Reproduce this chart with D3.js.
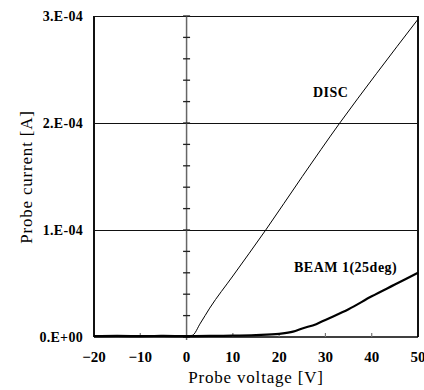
<!DOCTYPE html>
<html>
<head>
<meta charset="utf-8">
<script src="https://cdn.jsdelivr.net/npm/d3@7"></script>
<style>
  html, body { margin: 0; padding: 0; background: #fff; }
  svg { display: block; }
  text { font-family: "Liberation Serif", "DejaVu Serif", serif; fill: #000; }
</style>
</head>
<body>
<div id="chart"></div>
<script>
// ---- data ----
const xTicks = [-20, -10, 0, 10, 20, 30, 40, 50];
const yTicks = [0, 1e-4, 2e-4, 3e-4];
const yTickLabels = ["0.E+00", "1.E-04", "2.E-04", "3.E-04"];
const yMinorTicks = [0, 0.2e-4, 0.4e-4, 0.6e-4, 0.8e-4, 1.0e-4, 1.2e-4, 1.4e-4, 1.6e-4, 1.8e-4,
                     2.0e-4, 2.2e-4, 2.4e-4, 2.6e-4, 2.8e-4, 3.0e-4];

const discVoltage = [-20, -15, -10, -5, 0, 1.2, 3, 5, 10, 17.1, 25, 33.1, 41, 50];
const discCurrent = [0.012e-4, 0.010e-4, 0.012e-4, 0.011e-4, 0.012e-4, 0.015e-4, 0.13e-4, 0.27e-4,
                     0.57e-4, 1.0e-4, 1.5e-4, 2.0e-4, 2.46e-4, 2.97e-4];

const beamVoltage = [-20, -15, -10, -5, 0, 5, 10, 15, 20, 23, 25, 28, 30, 35, 40, 45, 50];
const beamCurrent = [0.008e-4, 0.010e-4, 0.008e-4, 0.010e-4, 0.008e-4, 0.010e-4, 0.012e-4, 0.018e-4,
                     0.03e-4, 0.05e-4, 0.08e-4, 0.12e-4, 0.16e-4, 0.26e-4, 0.38e-4, 0.49e-4, 0.60e-4];

const labels = [
  { text: "DISC", x: 27.3, y: 2.24e-4 },
  { text: "BEAM 1(25deg)", x: 23.2, y: 0.61e-4 }
];

// ---- layout ----
const W = 424, H = 390;
const mLeft = 94, mRight = 418, mTop = 16, mBottom = 337;

const svg = d3.select("#chart").append("svg").attr("width", W).attr("height", H);

const x = d3.scaleLinear().domain([-20, 50]).range([mLeft, mRight]);
const y = d3.scaleLinear().domain([0, 3e-4]).range([mBottom, mTop]);

// gridlines
svg.append("g").selectAll("line").data(yTicks.filter(d => d > 0)).join("line")
  .attr("x1", mLeft).attr("x2", mRight)
  .attr("y1", d => y(d)).attr("y2", d => y(d))
  .attr("stroke", "#111").attr("stroke-width", 1).attr("shape-rendering", "crispEdges");

// frame: left, right borders
svg.append("line").attr("x1", mLeft).attr("x2", mLeft).attr("y1", mTop).attr("y2", mBottom)
  .attr("stroke", "#111").attr("stroke-width", 1.2).attr("shape-rendering", "crispEdges");
svg.append("line").attr("x1", mRight).attr("x2", mRight).attr("y1", mTop).attr("y2", mBottom)
  .attr("stroke", "#111").attr("stroke-width", 1.2).attr("shape-rendering", "crispEdges");

// vertical axis at x = 0 with crossing ticks
const ax0 = x(0);
svg.append("line").attr("x1", ax0).attr("x2", ax0).attr("y1", mTop).attr("y2", mBottom + 3)
  .attr("stroke", "#666").attr("stroke-width", 1.5);
svg.append("g").selectAll("line").data(yMinorTicks).join("line")
  .attr("x1", ax0 - 3.5).attr("x2", ax0 + 3.5)
  .attr("y1", d => y(d)).attr("y2", d => y(d))
  .attr("stroke", "#222").attr("stroke-width", 1.3);

// bottom axis with inward ticks
svg.append("line").attr("x1", mLeft).attr("x2", mRight).attr("y1", mBottom).attr("y2", mBottom)
  .attr("stroke", "#000").attr("stroke-width", 1.5);
svg.append("g").selectAll("line").data(xTicks.filter(d => d !== 0 && d !== -20 && d !== 50)).join("line")
  .attr("x1", d => x(d)).attr("x2", d => x(d))
  .attr("y1", mBottom).attr("y2", mBottom - 4)
  .attr("stroke", "#777").attr("stroke-width", 1.2);

// curves
const line = d3.line().x(d => x(d[0])).y(d => y(d[1])).curve(d3.curveMonotoneX);
svg.append("path").datum(beamVoltage.map((v, i) => [v, beamCurrent[i]]))
  .attr("d", line).attr("fill", "none").attr("stroke", "#000").attr("stroke-width", 2.2);
svg.append("path").datum(discVoltage.map((v, i) => [v, discCurrent[i]]))
  .attr("d", line).attr("fill", "none").attr("stroke", "#000").attr("stroke-width", 1);

// tick labels
svg.append("g").selectAll("text").data(yTicks).join("text")
  .attr("x", 83).attr("y", d => y(d) + 5)
  .attr("text-anchor", "end").attr("font-size", 14).attr("font-weight", "bold")
  .attr("letter-spacing", 0.3)
  .text((d, i) => yTickLabels[i]);
svg.append("g").selectAll("text").data(xTicks).join("text")
  .attr("x", d => x(d)).attr("y", 362)
  .attr("text-anchor", "middle").attr("font-size", 15).attr("font-weight", "bold")
  .text(d => d < 0 ? "\u2212" + Math.abs(d) : d);

// series labels
svg.append("g").selectAll("text").data(labels).join("text")
  .attr("x", d => x(d.x)).attr("y", d => y(d.y))
  .attr("font-size", 14).attr("font-weight", "bold").attr("letter-spacing", 0.5)
  .text(d => d.text);

// axis titles
svg.append("text").attr("x", 256).attr("y", 383).attr("text-anchor", "middle")
  .attr("font-size", 17).attr("letter-spacing", 0.8).text("Probe voltage [V]");
svg.append("text").attr("transform", "translate(32,177) rotate(-90)").attr("text-anchor", "middle")
  .attr("font-size", 17).attr("letter-spacing", 0.8).text("Probe current [A]");
</script>
</body>
</html>
